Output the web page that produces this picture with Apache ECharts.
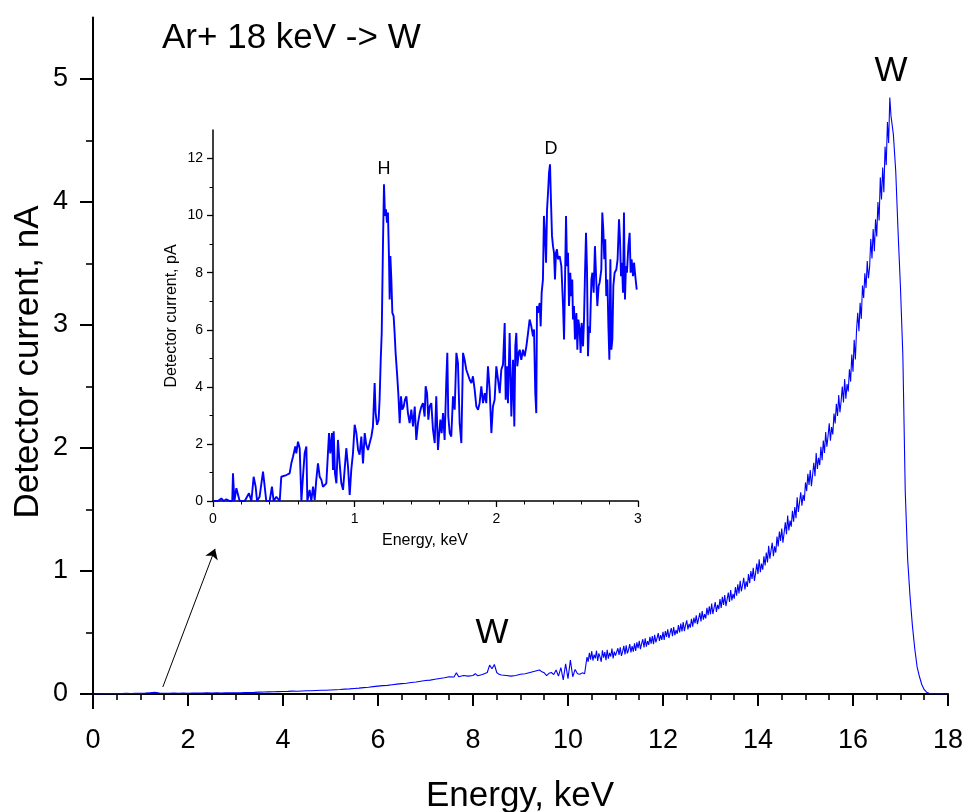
<!DOCTYPE html>
<html>
<head>
<meta charset="utf-8">
<style>
  html, body { margin: 0; padding: 0; background: #ffffff; }
  #chart { width: 966px; height: 812px; }
</style>
<script src="https://cdn.jsdelivr.net/npm/echarts@6.0.0/dist/echarts.min.js"></script>
</head>
<body>
<div id="chart"></div>
<script>
// ---------------- DATA ----------------
// Main spectrum: energy (keV) and detector current (nA)
const mainEnergy = [
  0.0,0.1,0.2,0.3,0.4,0.5,0.6,0.7,0.8,0.9,
  1.0,1.1,1.2,1.3,1.4,1.5,1.6,1.7,1.8,1.9,
  2.0,2.1,2.2,2.3,2.4,2.5,2.6,2.7,2.8,2.9,
  3.0,3.1,3.2,3.3,3.4,3.5,3.6,3.7,3.8,3.9,
  4.0,4.1,4.2,4.3,4.4,4.5,4.6,4.7,4.8,4.9,
  5.0,5.1,5.2,5.3,5.4,5.5,5.6,5.7,5.8,5.9,
  6.0,6.1,6.2,6.3,6.4,6.5,6.6,6.7,6.8,6.9,
  7.0,7.1,7.2,7.3,7.4,7.5,7.6,7.65,7.7,7.8,
  7.9,8.0,8.05,8.1,8.2,8.3,8.35,8.4,8.45,8.5,
  8.55,8.6,8.7,8.8,8.9,9.0,9.1,9.2,9.3,9.4,
  9.45,9.5,9.55,9.6,9.65,9.7,9.75,9.8,9.85,9.9,
  9.95,10.0,10.05,10.1,10.15,10.2,10.25,10.3,10.35,10.4,
  10.425,10.45,10.475,10.5,10.525,10.55,10.575,10.6,
  10.625,10.65,10.675,10.7,10.725,10.75,10.775,10.8,
  10.825,10.85,10.875,10.9,10.925,10.95,10.975,11.0,
  11.025,11.05,11.075,11.1,11.125,11.15,11.175,11.2,
  11.225,11.25,11.275,11.3,11.325,11.35,11.375,11.4,
  11.425,11.45,11.475,11.5,11.525,11.55,11.575,11.6,
  11.625,11.65,11.675,11.7,11.725,11.75,11.775,11.8,
  11.825,11.85,11.875,11.9,11.925,11.95,11.975,12.0,
  12.025,12.05,12.075,12.1,12.125,12.15,12.175,12.2,
  12.225,12.25,12.275,12.3,12.325,12.35,12.375,12.4,
  12.425,12.45,12.475,12.5,12.525,12.55,12.575,12.6,
  12.625,12.65,12.675,12.7,12.725,12.75,12.775,12.8,
  12.825,12.85,12.875,12.9,12.925,12.95,12.975,13.0,
  13.025,13.05,13.075,13.1,13.125,13.15,13.175,13.2,
  13.225,13.25,13.275,13.3,13.325,13.35,13.375,13.4,
  13.425,13.45,13.475,13.5,13.525,13.55,13.575,13.6,
  13.625,13.65,13.675,13.7,13.725,13.75,13.775,13.8,
  13.825,13.85,13.875,13.9,13.925,13.95,13.975,14.0,
  14.025,14.05,14.075,14.1,14.125,14.15,14.175,14.2,
  14.225,14.25,14.275,14.3,14.325,14.35,14.375,14.4,
  14.425,14.45,14.475,14.5,14.525,14.55,14.575,14.6,
  14.625,14.65,14.675,14.7,14.725,14.75,14.775,14.8,
  14.825,14.85,14.875,14.9,14.925,14.95,14.975,15.0,
  15.025,15.05,15.075,15.1,15.125,15.15,15.175,15.2,
  15.225,15.25,15.275,15.3,15.325,15.35,15.375,15.4,
  15.425,15.45,15.475,15.5,15.525,15.55,15.575,15.6,
  15.625,15.65,15.675,15.7,15.725,15.75,15.775,15.8,
  15.825,15.85,15.875,15.9,15.925,15.95,15.975,16.0,
  16.025,16.05,16.075,16.1,16.125,16.15,16.175,16.2,
  16.225,16.25,16.275,16.3,16.325,16.35,16.375,16.4,
  16.425,16.45,16.475,16.5,16.525,16.55,16.575,16.6,
  16.625,16.65,16.675,16.7,16.725,16.75,16.775,16.8,
  16.85,16.9,16.95,17.0,17.05,17.1,17.15,17.2,17.25,17.3,
  17.35,17.4,17.45,17.5,17.55,17.6,17.7,17.8,18.0
];
const mainCurrent = [
  0.000,0.002,0.001,0.003,0.002,0.004,0.003,0.005,0.004,0.006,
  0.005,0.007,0.010,0.013,0.008,0.006,0.006,0.007,0.006,0.007,
  0.006,0.007,0.008,0.007,0.009,0.008,0.009,0.008,0.009,0.009,
  0.010,0.010,0.011,0.012,0.013,0.015,0.016,0.017,0.018,0.019,
  0.020,0.021,0.023,0.022,0.025,0.026,0.027,0.029,0.030,0.031,
  0.033,0.035,0.037,0.040,0.042,0.045,0.048,0.052,0.055,0.060,
  0.064,0.068,0.070,0.075,0.080,0.084,0.088,0.093,0.098,0.104,
  0.110,0.113,0.120,0.126,0.132,0.140,0.138,0.172,0.140,0.150,
  0.145,0.150,0.165,0.148,0.158,0.175,0.235,0.205,0.240,0.175,
  0.160,0.155,0.150,0.145,0.150,0.160,0.165,0.175,0.185,0.195,
  0.180,0.172,0.150,0.168,0.175,0.158,0.195,0.145,0.215,0.115,
  0.245,0.125,0.275,0.140,0.200,0.165,0.160,0.172,0.165,0.300,
  0.262,0.335,0.280,0.348,0.272,0.320,0.290,0.352,
  0.268,0.330,0.300,0.262,0.355,0.295,0.340,0.275,
  0.360,0.288,0.335,0.305,0.370,0.290,0.345,0.312,
  0.300,0.372,0.318,0.380,0.310,0.345,0.392,0.322,
  0.395,0.330,0.360,0.405,0.338,0.390,0.345,0.412,
  0.350,0.420,0.372,0.432,0.365,0.410,0.445,0.378,
  0.452,0.385,0.430,0.400,0.465,0.410,0.470,0.405,
  0.482,0.420,0.455,0.495,0.432,0.478,0.440,0.505,
  0.440,0.512,0.465,0.525,0.455,0.498,0.535,0.470,
  0.545,0.478,0.520,0.490,0.560,0.500,0.572,0.508,
  0.585,0.512,0.560,0.598,0.525,0.570,0.540,0.612,
  0.548,0.620,0.575,0.640,0.568,0.612,0.660,0.590,
  0.675,0.605,0.650,0.615,0.700,0.640,0.712,0.648,
  0.735,0.650,0.700,0.748,0.668,0.725,0.690,0.772,
  0.700,0.790,0.725,0.805,0.715,0.770,0.825,0.748,
  0.845,0.760,0.815,0.775,0.870,0.800,0.892,0.818,
  0.920,0.835,0.885,0.945,0.850,0.915,0.870,0.975,
  0.900,1.000,0.935,1.025,0.920,0.985,1.060,0.975,
  1.095,0.990,1.060,1.010,1.120,1.045,1.150,1.070,
  1.205,1.100,1.170,1.230,1.120,1.200,1.150,1.280,
  1.200,1.320,1.245,1.345,1.230,1.310,1.395,1.300,
  1.450,1.330,1.410,1.360,1.490,1.400,1.520,1.430,
  1.600,1.480,1.560,1.640,1.530,1.620,1.570,1.720,
  1.650,1.790,1.700,1.820,1.690,1.780,1.880,1.770,
  1.960,1.830,1.920,1.860,2.010,1.900,2.060,1.960,
  2.130,2.010,2.100,2.200,2.060,2.170,2.110,2.280,
  2.200,2.360,2.260,2.430,2.290,2.380,2.500,2.370,
  2.560,2.400,2.520,2.460,2.640,2.540,2.760,2.620,
  2.880,2.720,2.960,3.100,2.950,3.180,3.050,3.320,
  3.220,3.420,3.300,3.520,3.380,3.470,3.700,3.540,
  3.780,3.600,3.860,3.720,4.000,3.850,4.200,4.020,
  4.280,4.080,4.450,4.300,4.650,4.480,4.850,4.700,
  4.550,4.250,3.750,3.300,2.750,1.650,1.100,0.800,0.560,0.370,
  0.220,0.140,0.075,0.035,0.015,0.006,0.002,0.001,0.001
];

// Inset spectrum: energy (keV) and detector current (pA)
const insetEnergy = [
  0.000,0.035,0.059,0.075,0.094,0.118,0.136,0.141,0.151,0.165,
  0.176,0.188,0.224,0.254,0.271,0.287,0.301,0.311,0.329,0.353,
  0.365,0.376,0.400,0.416,0.428,0.447,0.471,0.482,0.494,0.518,
  0.541,0.553,0.565,0.581,0.588,0.600,0.612,0.624,0.635,0.647,
  0.659,0.666,0.682,0.694,0.706,0.718,0.729,0.741,0.753,0.765,
  0.776,0.800,0.819,0.828,0.840,0.847,0.852,0.861,0.871,0.882,
  0.894,0.906,0.918,0.929,0.941,0.953,0.965,0.976,0.988,1.000,
  1.012,1.024,1.035,1.047,1.059,1.071,1.082,1.094,1.106,1.118,
  1.129,1.141,1.148,1.158,1.169,1.176,1.184,1.191,1.200,1.207,
  1.214,1.221,1.228,1.235,1.242,1.247,1.252,1.259,1.266,1.275,
  1.282,1.289,1.299,1.308,1.318,1.327,1.336,1.346,1.355,1.365,
  1.376,1.388,1.400,1.412,1.424,1.435,1.447,1.459,1.471,1.482,
  1.494,1.501,1.511,1.520,1.529,1.541,1.553,1.565,1.576,1.588,
  1.595,1.605,1.614,1.624,1.635,1.647,1.654,1.661,1.671,1.682,
  1.694,1.706,1.718,1.729,1.741,1.753,1.765,1.776,1.788,1.800,
  1.812,1.824,1.835,1.847,1.859,1.871,1.882,1.894,1.906,1.918,
  1.929,1.941,1.953,1.965,1.976,1.988,2.000,2.012,2.024,2.035,
  2.047,2.059,2.066,2.075,2.082,2.094,2.106,2.118,2.127,2.134,
  2.141,2.148,2.158,2.165,2.176,2.188,2.200,2.212,2.224,2.235,
  2.247,2.259,2.266,2.275,2.282,2.287,2.294,2.306,2.313,2.320,
  2.329,2.336,2.344,2.351,2.358,2.365,2.372,2.379,2.386,2.393,
  2.400,2.407,2.414,2.421,2.428,2.435,2.447,2.459,2.471,2.478,
  2.485,2.492,2.499,2.506,2.513,2.522,2.529,2.536,2.541,2.548,
  2.555,2.565,2.572,2.579,2.588,2.595,2.602,2.612,2.619,2.626,
  2.633,2.640,2.647,2.654,2.661,2.671,2.678,2.687,2.696,2.706,
  2.713,2.722,2.729,2.741,2.748,2.755,2.762,2.769,2.776,2.784,
  2.791,2.798,2.805,2.812,2.819,2.826,2.835,2.847,2.856,2.866,
  2.873,2.880,2.887,2.894,2.901,2.908,2.915,2.922,2.932,2.941,
  2.948,2.955,2.965,2.972,2.981,2.991
];
const insetCurrent = [
  0,0,0.09,0,0.06,0,0,0.97,0,0.45,
  0.50,0,0,0.27,0,0.85,0.50,0,0.15,1.03,
  0.50,0,0,0.50,0,0.15,0,0.85,0.85,0.91,
  0.97,1.32,1.56,1.91,1.67,2.08,1.85,0,0.85,1.67,
  1.91,0,0.39,0,0.50,0.04,0.74,1.32,0.85,0.74,
  0.50,0.62,2.38,1.67,2.38,1.09,2.44,0.97,0.62,2.14,
  1.32,0.62,0.39,1.09,1.85,1.21,0.21,1.09,1.67,2.67,
  2.38,1.79,1.62,2.26,1.32,2.38,1.97,1.79,2.03,2.26,
  2.61,4.13,3.08,2.67,2.85,3.55,4.95,5.89,9.05,11.10,
  9.99,10.22,9.75,10.11,8.58,7.06,8.58,7.76,6.59,6.48,
  5.89,5.19,4.48,3.78,2.73,3.67,3.20,3.31,3.55,3.67,
  3.08,2.73,3.20,2.61,3.31,2.14,2.73,3.08,3.31,3.43,
  2.96,4.02,3.78,2.85,3.31,3.43,2.49,2.03,3.67,1.79,
  2.26,2.85,2.38,3.08,2.14,4.25,5.19,2.96,2.38,2.26,
  3.67,3.20,5.19,4.84,2.73,2.03,5.19,4.95,4.60,4.66,
  4.25,4.13,4.37,3.90,3.31,3.20,3.43,4.02,3.43,3.78,
  3.43,4.72,3.90,2.38,3.31,3.55,4.72,4.25,3.78,4.60,
  4.78,6.24,3.55,4.72,3.43,5.89,2.96,4.95,2.61,5.42,
  5.89,4.72,5.19,5.30,4.95,5.30,5.07,5.42,5.89,6.36,
  6.12,5.77,6.01,3.78,3.08,6.83,6.59,6.94,6.12,7.30,
  7.76,9.99,9.29,8.35,10.22,10.81,11.51,11.80,10.46,9.29,
  8.93,8.70,7.76,8.70,8.82,8.47,8.58,8.23,6.83,5.66,
  7.76,9.99,8.23,8.70,6.83,8.00,7.18,7.76,6.36,6.83,
  5.66,6.59,5.30,6.36,6.01,5.19,6.24,5.42,6.36,8.00,
  9.40,8.11,5.07,6.12,5.89,7.76,8.00,7.30,8.93,7.65,
  6.83,7.53,7.65,8.11,10.11,9.52,8.47,9.17,7.18,7.76,
  6.12,4.95,8.47,5.30,5.66,7.53,8.00,8.11,8.47,9.87,
  9.17,7.88,8.35,7.30,10.11,7.06,8.23,8.00,8.93,9.40,
  8.00,8.47,7.88,8.35,7.88,7.41
];

// Tick values
const mainYMajor = [0, 1, 2, 3, 4, 5];
const mainYMinor = [0.5, 1.5, 2.5, 3.5, 4.5];
const insetYMajor = [0, 2, 4, 6, 8, 10, 12];
const insetYMinor = [1, 3, 5, 7, 9, 11];

// Arrow (main axes coordinates: keV, nA)
const arrowFrom = [1.47, 0.057];
const arrowTo = [2.57, 1.18];

// Texts
const titleText = 'Ar+ 18 keV -> W';
const peakLabels = ['W', 'W', 'H', 'D'];

// ---------------- CHART ----------------
const FONT = '"Liberation Sans", Arial, Helvetica, sans-serif';
const mainData = mainEnergy.map((e, i) => [e, mainCurrent[i]]);
const insetData = insetEnergy.map((e, i) => [e, insetCurrent[i]]);

const chart = echarts.init(document.getElementById('chart'), null, { renderer: 'canvas' });

const option = {
  animation: false,
  backgroundColor: '#ffffff',
  grid: [
    { left: 93, top: 17.5, width: 855, height: 676.5 },
    { left: 213, top: 130, width: 425, height: 371 }
  ],
  xAxis: [
    {
      gridIndex: 0, type: 'value', min: 0, max: 18, interval: 2, offset: 14,
      axisLine: { show: true, lineStyle: { color: '#000', width: 2 } },
      axisTick: { show: true, inside: false, length: 12, lineStyle: { color: '#000', width: 2 } },
      minorTick: { show: true, splitNumber: 4, length: 6, lineStyle: { color: '#000', width: 1.6 } },
      axisLabel: { color: '#000', fontSize: 27, fontFamily: FONT, margin: 19 },
      splitLine: { show: false }, minorSplitLine: { show: false }
    },
    {
      gridIndex: 1, type: 'value', min: 0, max: 3, interval: 1,
      axisLine: { show: true, lineStyle: { color: '#000', width: 1.5 } },
      axisTick: { show: true, inside: false, length: 6, lineStyle: { color: '#000', width: 1.3 } },
      minorTick: { show: true, splitNumber: 5, length: 3.5, lineStyle: { color: '#000', width: 1 } },
      axisLabel: { color: '#000', fontSize: 14, fontFamily: FONT, margin: 11 },
      splitLine: { show: false }, minorSplitLine: { show: false }
    }
  ],
  yAxis: [
    {
      gridIndex: 0, type: 'value', min: 0, max: 5.5,
      axisLine: { show: true, onZero: false, lineStyle: { color: '#000', width: 2 } },
      axisTick: { show: true, inside: false, length: 13, customValues: mainYMajor, lineStyle: { color: '#000', width: 2 } },
      axisLabel: { color: '#000', fontSize: 27, fontFamily: FONT, margin: 25, customValues: mainYMajor },
      splitLine: { show: false }
    },
    {
      gridIndex: 0, type: 'value', min: 0, max: 5.5, position: 'left',
      axisLine: { show: false },
      axisTick: { show: true, inside: false, length: 7, customValues: mainYMinor, lineStyle: { color: '#000', width: 1.6 } },
      axisLabel: { show: false },
      splitLine: { show: false }
    },
    {
      gridIndex: 1, type: 'value', min: 0, max: 13,
      axisLine: { show: true, onZero: false, lineStyle: { color: '#000', width: 1.5 } },
      axisTick: { show: true, inside: false, length: 6, customValues: insetYMajor, lineStyle: { color: '#000', width: 1.3 } },
      axisLabel: { color: '#000', fontSize: 14, fontFamily: FONT, margin: 10, customValues: insetYMajor },
      splitLine: { show: false }
    },
    {
      gridIndex: 1, type: 'value', min: 0, max: 13, position: 'left',
      axisLine: { show: false },
      axisTick: { show: true, inside: false, length: 3.5, customValues: insetYMinor, lineStyle: { color: '#000', width: 1 } },
      axisLabel: { show: false },
      splitLine: { show: false }
    }
  ],
  series: [
    {
      type: 'line', xAxisIndex: 0, yAxisIndex: 0, data: mainData,
      showSymbol: false, symbol: 'none', sampling: false, clip: true,
      lineStyle: { color: '#0000ff', width: 1.1 },
      markLine: {
        silent: true, animation: false,
        symbol: ['none', 'arrow'], symbolSize: 10,
        lineStyle: { color: '#000', width: 1, type: 'solid' },
        label: { show: false },
        data: [[ { coord: arrowFrom }, { coord: arrowTo } ]]
      }
    },
    {
      type: 'line', xAxisIndex: 1, yAxisIndex: 2, data: insetData,
      showSymbol: false, symbol: 'none', sampling: false,
      lineStyle: { color: '#0000ff', width: 1.9 }
    }
  ],
  graphic: [
    // y-axis extension down to the offset x-axis
    { type: 'line', shape: { x1: 93, y1: 693, x2: 93, y2: 709 }, style: { stroke: '#000', lineWidth: 2 }, silent: true },
    { type: 'text', x: 162, y: 38, style: { text: titleText, font: '35px ' + FONT, fill: '#000', textAlign: 'left', textVerticalAlign: 'middle' } },
    { type: 'text', x: 891, y: 71, style: { text: peakLabels[0], font: '35px ' + FONT, fill: '#000', textAlign: 'center', textVerticalAlign: 'middle' } },
    { type: 'text', x: 492, y: 633, style: { text: peakLabels[1], font: '35px ' + FONT, fill: '#000', textAlign: 'center', textVerticalAlign: 'middle' } },
    { type: 'text', x: 384, y: 169, style: { text: peakLabels[2], font: '18px ' + FONT, fill: '#000', textAlign: 'center', textVerticalAlign: 'middle' } },
    { type: 'text', x: 551, y: 149, style: { text: peakLabels[3], font: '18px ' + FONT, fill: '#000', textAlign: 'center', textVerticalAlign: 'middle' } },
    { type: 'text', x: 520, y: 796, style: { text: 'Energy, keV', font: '35px ' + FONT, fill: '#000', textAlign: 'center', textVerticalAlign: 'middle' } },
    { type: 'text', x: 28, y: 362, rotation: Math.PI / 2, style: { text: 'Detector current, nA', font: '35px ' + FONT, fill: '#000', textAlign: 'center', textVerticalAlign: 'middle' } },
    { type: 'text', x: 425, y: 541, style: { text: 'Energy, keV', font: '16px ' + FONT, fill: '#000', textAlign: 'center', textVerticalAlign: 'middle' } },
    { type: 'text', x: 172, y: 316, rotation: Math.PI / 2, style: { text: 'Detector current, pA', font: '16px ' + FONT, fill: '#000', textAlign: 'center', textVerticalAlign: 'middle' } }
  ]
};

chart.setOption(option);
</script>
</body>
</html>
